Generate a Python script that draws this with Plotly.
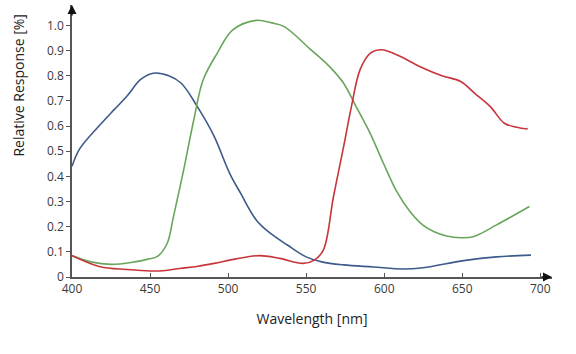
import plotly.graph_objects as go

blue_wl = [400, 405, 418, 427, 435, 444, 452, 462, 470, 480, 491, 501, 508, 518, 527, 538, 550, 560, 574, 593, 612, 625, 651, 672, 694]
blue_val = [0.44, 0.51, 0.605, 0.665, 0.717, 0.785, 0.81, 0.80, 0.77, 0.68, 0.56, 0.412, 0.333, 0.227, 0.174, 0.127, 0.08, 0.06, 0.048, 0.04, 0.032, 0.037, 0.065, 0.08, 0.087]

green_wl = [400, 412, 425, 440, 448, 455, 461, 465, 471.5, 478, 484, 493, 503, 518, 528, 536, 552, 565, 574, 582, 591, 599.5, 608, 616.5, 625, 632, 640, 649, 657, 672, 693]
green_val = [0.085, 0.06, 0.05, 0.06, 0.07, 0.083, 0.134, 0.24, 0.425, 0.624, 0.783, 0.889, 0.982, 1.02, 1.01, 0.995, 0.909, 0.836, 0.77, 0.677, 0.571, 0.452, 0.34, 0.26, 0.205, 0.18, 0.163, 0.156, 0.16, 0.207, 0.28]

red_wl = [400, 418, 435, 450, 460, 469, 480, 491, 505, 520, 533, 548, 555, 561, 567.5, 574, 579, 584.5, 591, 598.5, 608, 623, 637, 649, 658, 668, 677, 685, 692]
red_val = [0.085, 0.041, 0.03, 0.024, 0.026, 0.034, 0.042, 0.054, 0.072, 0.085, 0.074, 0.054, 0.066, 0.107, 0.319, 0.518, 0.677, 0.823, 0.889, 0.903, 0.883, 0.836, 0.80, 0.777, 0.73, 0.677, 0.611, 0.595, 0.588]

x_ticks = [400, 450, 500, 550, 600, 650, 700]
y_ticks = [0, 0.1, 0.2, 0.3, 0.4, 0.5, 0.6, 0.7, 0.8, 0.9, 1.0]
y_labels = ["0", "0.1", "0.2", "0.3", "0.4", "0.5", "0.6", "0.7", "0.8", "0.9", "1.0"]

fig = go.Figure()
for wl, val, col in [(blue_wl, blue_val, "#3d5a8a"), (green_wl, green_val, "#6aa55c"), (red_wl, red_val, "#c7353b")]:
    fig.add_trace(go.Scatter(x=wl, y=val, mode="lines",
                             line=dict(color=col, width=1.6, shape="spline", smoothing=1.0),
                             showlegend=False, hoverinfo="skip"))

axis_col = "#555555"
font = "Open Sans, sans-serif"
fig.update_layout(
    width=576, height=354,
    margin=dict(l=71.5, r=24, t=5, b=77),
    paper_bgcolor="white", plot_bgcolor="white",
    font=dict(family=font, size=12, color="#3a3a3a"),
    xaxis=dict(range=[400, 707.5], tickvals=x_ticks, ticks="inside", ticklen=4,
               tickcolor=axis_col, showline=True, linecolor=axis_col, linewidth=1.5,
               showgrid=False, zeroline=False,
               title=dict(text="Wavelength [nm]", font=dict(size=14, color="#222222"), standoff=18)),
    yaxis=dict(range=[0, 1.081], tickvals=y_ticks, ticktext=y_labels, ticks="outside", ticklen=4,
               tickcolor=axis_col, showline=True, linecolor=axis_col, linewidth=1.5,
               showgrid=False, zeroline=False),
    annotations=[
        dict(text="Relative Response [%]", xref="paper", yref="paper",
             x=-71.5 / 480.5 + 17 / 480.5, y=(277 - 86) / 272, textangle=-90,
             showarrow=False, font=dict(size=14, color="#222222"), xanchor="center", yanchor="middle"),
        dict(x=1.0, y=0, xref="paper", yref="paper", ax=-12, ay=0, axref="pixel", ayref="pixel",
             showarrow=True, arrowhead=2, arrowsize=1.2, arrowwidth=1.5, arrowcolor="#111111", text=""),
        dict(x=0, y=1.0, xref="paper", yref="paper", ax=0, ay=12, axref="pixel", ayref="pixel",
             showarrow=True, arrowhead=2, arrowsize=1.2, arrowwidth=1.5, arrowcolor="#111111", text=""),
    ],
)

fig.write_html("out.html")
